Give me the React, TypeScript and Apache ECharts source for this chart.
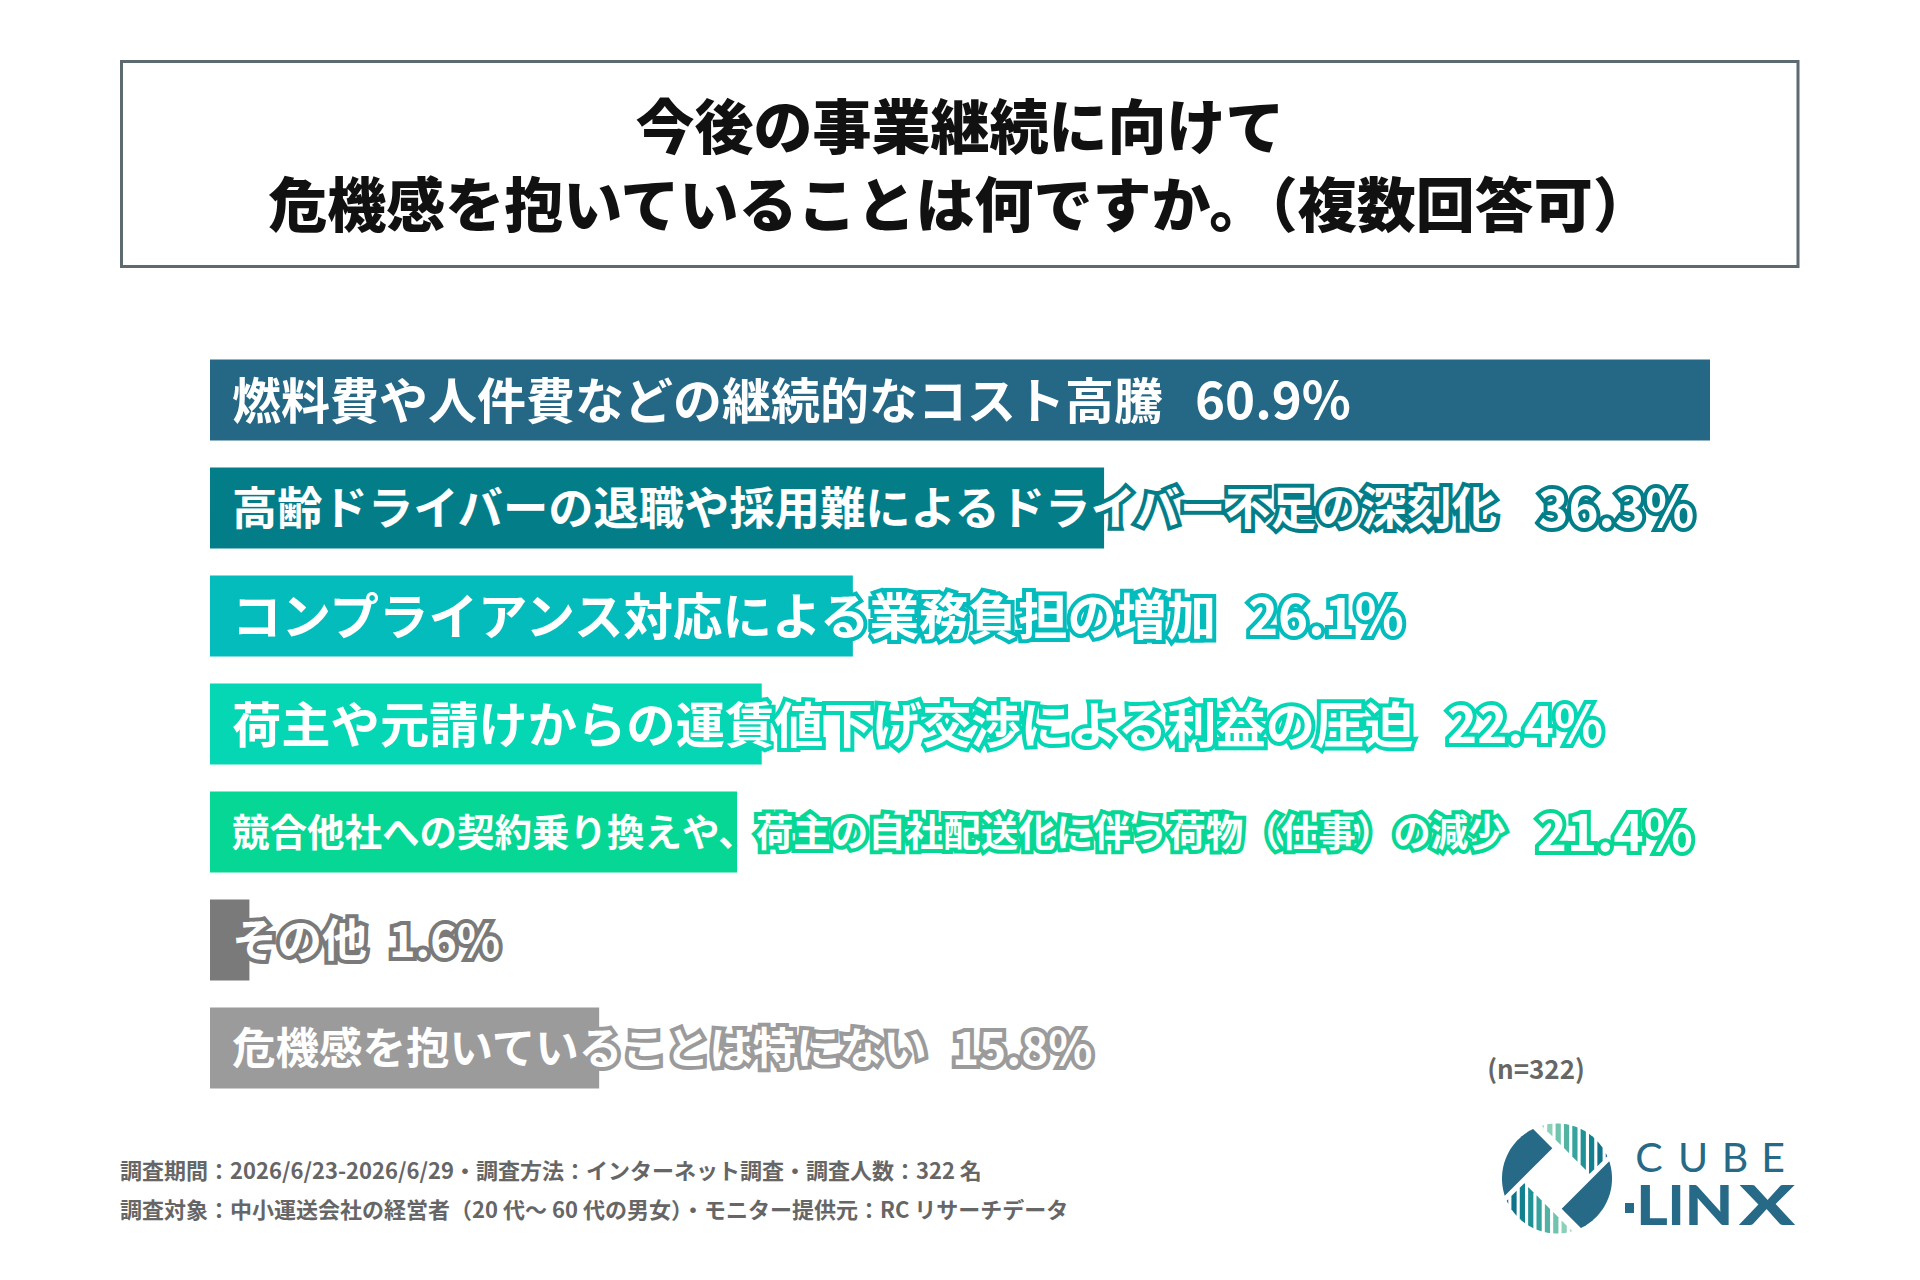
import React, { useEffect, useRef } from "react";
import * as echarts from "echarts";

const categories = [
  "燃料費や人件費などの継続的なコスト高騰",
  "高齢ドライバーの退職や採用難によるドライバー不足の深刻化",
  "コンプライアンス対応による業務負担の増加",
  "荷主や元請けからの運賃値下げ交渉による利益の圧迫",
  "競合他社への契約乗り換えや、荷主の自社配送化に伴う荷物（仕事）の減少",
  "その他",
  "危機感を抱いていることは特にない",
];
const values = [60.9, 36.3, 26.1, 22.4, 21.4, 1.6, 15.8];
const titleLines = ["今後の事業継続に向けて", "危機感を抱いていることは何ですか。（複数回答可）"];
const footerLines = [
  "調査期間：2026/6/23-2026/6/29・調査方法：インターネット調査・調査人数：322 名",
  "調査対象：中小運送会社の経営者（20 代～ 60 代の男女）・モニター提供元：RC リサーチデータ",
];
const sampleNote = "(n=322)";
const logoTop = ["C", "U", "B", "E"];
const logoBottom = ["L", "I", "N", "X"];

const barColors = ["#256886", "#037e89", "#03bcbb", "#05d7b5", "#07d794", "#7a7a7a", "#9b9b9b"];
const labelSizes = [49, 45.3, 49.5, 49.3, 37.5, 45, 43.5];
const pctSizes = [51, 51, 51, 51, 51, 45, 46];
const pctGaps = [32, 38, 26, 32, 31, 22, 24];
const stripeColors = ["#a8dbc8", "#8dd0ba", "#70c3ad", "#52b3a3", "#37a39e", "#1f9296", "#12818f", "#0f7389", "#1f648a", "#24608a"];
const FONT = '"Noto Sans CJK JP", "Noto Sans", sans-serif';
const LOGO_BLUE = "#266a87";

type P = number[];
function clipPoly(poly: P[], a: number, b: number, c: number): P[] {
  const out: P[] = [];
  for (let i = 0; i < poly.length; i++) {
    const p = poly[i];
    const q = poly[(i + 1) % poly.length];
    const fp = a * p[0] + b * p[1] - c;
    const fq = a * q[0] + b * q[1] - c;
    if (fp <= 0) out.push(p);
    if ((fp <= 0) !== (fq <= 0)) {
      const t = fp / (fp - fq);
      out.push([p[0] + t * (q[0] - p[0]), p[1] + t * (q[1] - p[1])]);
    }
  }
  return out;
}

function buildLogo(cx: number, cy: number, R: number): any[] {
  const circle: P[] = [];
  for (let i = 0; i < 180; i++) {
    const a = (i / 180) * Math.PI * 2;
    circle.push([Math.cos(a), Math.sin(a)]);
  }
  const s = Math.SQRT1_2;
  const toScreen = (poly: P[]) => poly.map((p) => [cx + R * p[0], cy + R * p[1]]);
  let A = clipPoly(circle, s, s, -0.45);
  A = clipPoly(A, s, -s, 0.33);
  let C = clipPoly(circle, -s, -s, -0.45);
  C = clipPoly(C, -s, s, 0.33);
  let B = clipPoly(circle, -s, s, -0.48);
  B = clipPoly(B, s, s, 0.36);
  let D = clipPoly(circle, s, -s, -0.48);
  D = clipPoly(D, -s, -s, 0.36);
  const els: any[] = [];
  [A, C].forEach((poly) =>
    els.push({ type: "polygon", shape: { points: toScreen(poly) }, style: { fill: LOGO_BLUE } })
  );
  for (let k = 0; k < 10; k++) {
    const L = -0.33 + 0.152 * k;
    let st = clipPoly(B, -1, 0, -L);
    st = clipPoly(st, 1, 0, L + 0.095);
    if (st.length >= 3)
      els.push({ type: "polygon", shape: { points: toScreen(st) }, style: { fill: stripeColors[k] } });
    const Rr = 0.33 - 0.152 * k;
    let sd = clipPoly(D, 1, 0, Rr);
    sd = clipPoly(sd, -1, 0, -(Rr - 0.095));
    if (sd.length >= 3)
      els.push({ type: "polygon", shape: { points: toScreen(sd) }, style: { fill: stripeColors[k] } });
  }
  return els;
}

function textEl(text: string, x: number, y: number, font: string, fill: string, align: string, extra: any = {}, styleExtra: any = {}) {
  return {
    type: "text",
    x,
    y,
    ...extra,
    style: {
      text,
      font,
      fill,
      textAlign: align,
      textVerticalAlign: "middle",
      align,
      verticalAlign: "middle",
      ...styleExtra,
    },
  };
}

export default function App() {
  const ref = useRef<HTMLDivElement>(null);
  useEffect(() => {
    if (!ref.current) return;
    const chart = echarts.init(ref.current, undefined, { renderer: "svg" });
    const data = values.map((v, i) => ({
      value: v,
      itemStyle: { color: barColors[i] },
      label: {
        show: true,
        position: "insideLeft",
        distance: 22,
        offset: [0, -3],
        formatter: `{t|${categories[i]}}{p|${v.toFixed(1)}%}`,
        rich: {
          t: {
            fontSize: labelSizes[i],
            fontWeight: "bold",
            fontFamily: FONT,
            color: "#ffffff",
            textBorderColor: barColors[i],
            textBorderWidth: 8,
            lineHeight: 64,
            verticalAlign: "middle",
          },
          p: {
            fontSize: pctSizes[i],
            fontWeight: "bold",
            fontFamily: FONT,
            color: "#ffffff",
            textBorderColor: barColors[i],
            textBorderWidth: 8,
            lineHeight: 64,
            verticalAlign: "middle",
            padding: [0, 0, 0, pctGaps[i]],
          },
        },
      },
    }));

    const graphics: any[] = [
      {
        type: "rect",
        shape: { x: 121.5, y: 61.5, width: 1676.5, height: 205 },
        style: { fill: "#ffffff", stroke: "#5d6a70", lineWidth: 3 },
        z: 0,
      },
      textEl(titleLines.join("\n"), 960, 162, `900 59px ${FONT}`, "#111111", "center", {}, { lineHeight: 78 }),
      ...footerLines.map((t, i) =>
        textEl(t, 120, i === 0 ? 1168.5 : 1207.5, `bold 22px ${FONT}`, "#666666", "left")
      ),
      textEl(sampleNote, 1536, 1067, `bold 26px ${FONT}`, "#666666", "center"),
      ...buildLogo(1557, 1178.5, 55),
      ...logoTop.map((ch, i) =>
        textEl(ch, [1649, 1693, 1735, 1773][i], 1156, `400 41px Lato, "Open Sans", sans-serif`, LOGO_BLUE, "center")
      ),
      {
        type: "rect",
        shape: { x: 1625, y: 1203, width: 9, height: 10 },
        style: { fill: LOGO_BLUE },
      },
      ...logoBottom.map((ch, i) =>
        textEl(ch, [1652, 1676, 1709, 1767][i], 1204, `900 55px Lato, "Noto Sans", sans-serif`, LOGO_BLUE, "center", {
          scaleX: [1.1, 1.0, 1.15, 1.5][i],
        })
      ),
    ];

    chart.setOption({
      animation: false,
      backgroundColor: "#ffffff",
      grid: { left: 210, top: 346, width: 1500, height: 756 },
      xAxis: { type: "value", min: 0, max: 60.9, show: false },
      yAxis: { type: "category", data: categories, inverse: true, show: false },
      series: [
        {
          type: "bar",
          data,
          barWidth: 81,
          z: 2,
        },
      ],
      graphic: { elements: graphics },
    });
    return () => chart.dispose();
  }, []);
  return (
    <div
      ref={ref}
      style={{ position: "absolute", left: 0, top: 0, width: 1920, height: 1280 }}
    />
  );
}
